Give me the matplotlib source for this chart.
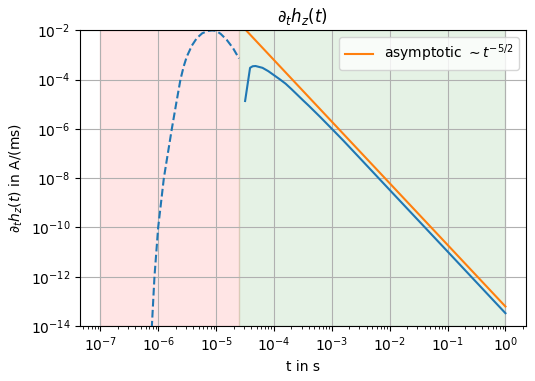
import numpy as np
import matplotlib
matplotlib.use('Agg')
import matplotlib.pyplot as plt

# early time (dashed) part of the response
t_early = [7.24e-7, 7.73e-7, 8.57e-7, 9.93e-7, 1.245e-6, 1.71e-6, 2.04e-6, 2.41e-6,
           2.75e-6, 3.10e-6, 3.80e-6, 4.62e-6, 5.75e-6, 7.33e-6, 8.51e-6, 1.0e-5,
           1.2e-5, 1.52e-5, 1.95e-5, 2.48e-5]
dhz_early = [1e-15, 1e-14, 1e-12, 1e-10, 1e-8, 1e-6, 1.1e-5, 1e-4,
             3.5e-4, 8.5e-4, 2.4e-3, 4.8e-3, 7.6e-3, 9.5e-3, 9.9e-3, 9.5e-3,
             7.1e-3, 4.1e-3, 1.9e-3, 7.2e-4]

# late time (solid) part
t_late = [3.16e-5, 3.85e-5, 4.27e-5, 4.79e-5, 6.31e-5, 7.08e-5, 7.94e-5, 1e-4,
          1.26e-4, 1.585e-4, 2.0e-4, 2.51e-4, 3.16e-4, 3.98e-4, 6.31e-4, 1e-3,
          1.585e-3, 3.16e-3, 1e-2, 1e-1, 1.0]
dhz_late = [1.35e-5, 3.0e-4, 3.47e-4, 3.55e-4, 3.0e-4, 2.57e-4, 2.2e-4, 1.5e-4,
            1.02e-4, 6.8e-5, 4.1e-5, 2.45e-5, 1.45e-5, 8.7e-6, 3.0e-6, 1.0e-6,
            3.3e-7, 5.9e-8, 3.3e-9, 1.05e-11, 3.3e-14]

# asymptote ~ t^-5/2
t_asym = [1e-7, 1e-6, 1e-5, 1e-4, 1e-3, 1e-2, 1e-1, 1.0]
dhz_asym = [1.95e4, 61.7, 0.195, 6.17e-4, 1.95e-6, 6.17e-9, 1.95e-11, 6.17e-14]

t_switch = 2.5e-5

fig, ax = plt.subplots(figsize=(5.35, 3.81), dpi=100)
fig.subplots_adjust(left=0.150, right=0.9826, top=0.9205, bottom=0.1444)

ax.axvspan(1e-7, t_switch, color='r', alpha=0.1)
ax.axvspan(t_switch, 1.0, color='g', alpha=0.1)

ax.plot(t_early, dhz_early, 'C0--')
ax.plot(t_late, dhz_late, 'C0-')
ax.plot(t_asym, dhz_asym, 'C1-', label=r'asymptotic $\sim t^{-5/2}$')

ax.set_xscale('log')
ax.set_yscale('log')
ax.set_ylim(1e-14, 1e-2)
ax.grid(True)
ax.set_title(r'$\partial_t h_z(t)$')
ax.set_xlabel('t in s')
ax.set_ylabel(r'$\partial_t h_z(t)$ in A/(ms)')
ax.legend(loc='upper right')

fig.savefig('out.png', dpi=100)
